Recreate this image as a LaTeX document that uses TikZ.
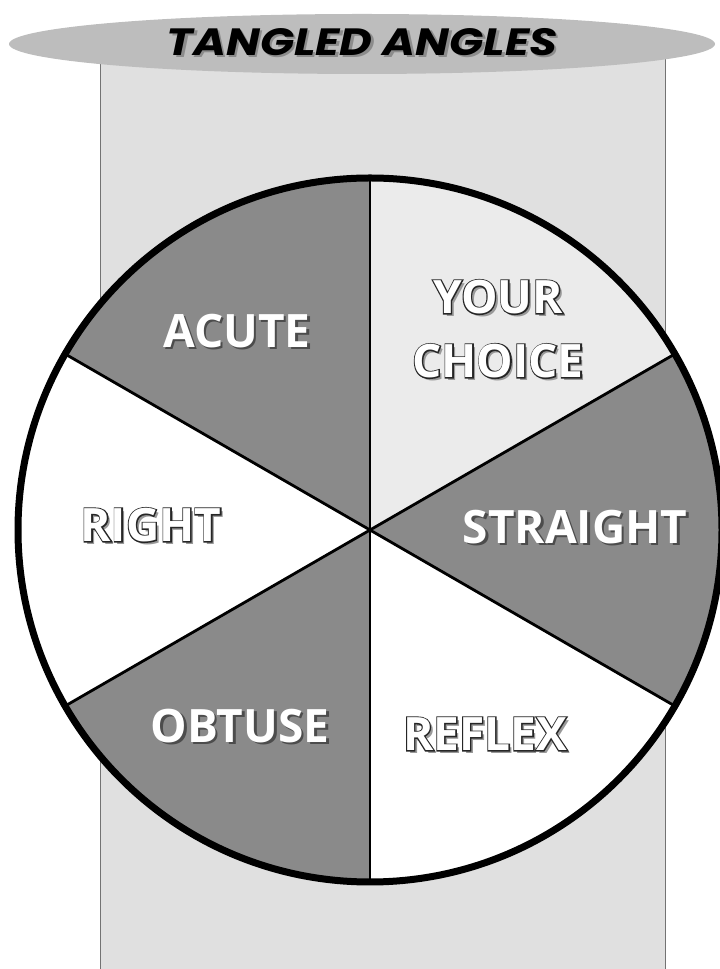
\documentclass[tikz,border=0pt]{standalone}
\usepackage{fontspec}
\setmainfont{Open Sans}
\newfontfamily\titlefont{Poppins}
\newfontfamily\thickfont{Open Sans}[BoldFeatures={FakeBold=5}]
\usetikzlibrary{calc}

\definecolor{bgpaper}{gray}{0.88}
\definecolor{bandgray}{gray}{0.74}
\definecolor{darksect}{gray}{0.54}
\definecolor{lightsect}{gray}{0.92}

\tikzset{
    lab/.style={font=\fontsize{46}{64}\selectfont\bfseries, text=white,
        inner sep=0pt, align=center},
    labshadow/.style={lab, text=black!70},
    laboutline/.style={lab, font=\thickfont\fontsize{46}{64}\selectfont\bfseries,
        text=black!85},
    spoke/.style={line width=2.8pt, black},
    titletext/.style={font=\titlefont\fontsize{38}{40}\selectfont\bfseries\itshape,
        xscale=1.18},
}

% white letters with a dark drop shadow
\newcommand{\embossed}[3]{%
    \node[labshadow] (#1-s) at ([shift={(2.5,-2.5)}]#2) {#3};
    \node[lab] (#1) at (#2) {#3};}
% white letters with a thin dark outline
\newcommand{\outlined}[3]{%
    \node[labshadow, text=black!40] (#1-s) at ([shift={(3,-3)}]#2) {#3};
    \node[laboutline] (#1-o) at (#2) {#3};
    \node[lab] (#1) at (#2) {#3};}

\begin{document}
\begin{tikzpicture}[x=1pt,y=1pt]
    \useasboundingbox (0,0) rectangle (720,969);

    % paper strip behind the wheel
    \fill[bgpaper] (100,0) rectangle (665,915);
    \draw[black!55, line width=1pt] (100,0) -- (100,915) (665,0) -- (665,915);

    % title band
    \fill[bandgray] (362,925) ellipse[x radius=353, y radius=30];
    \node[titletext, text=black!45] (title-s) at (364.5,924.5) {TANGLED ANGLES};
    \node[titletext, text=black] (title) at (362,927) {TANGLED ANGLES};

    % the wheel
    \coordinate (c) at (370,439);
    \foreach \s/\e/\col in {90/150/darksect, 30/90/lightsect, -30/30/darksect,
                            -90/-30/white, 210/270/darksect, 150/210/white}
        \fill[\col] (c) -- ([shift={(\s:352)}]c)
            arc[start angle=\s, end angle=\e, radius=352] -- cycle;
    \foreach \a in {90,30,150}
        \draw[spoke] ([shift={(\a:352)}]c) -- ([shift={(\a+180:352)}]c);
    \draw[line width=7pt] (c) circle[radius=352];

    % labels
    \coordinate (pacute) at (237,638);
    \coordinate (pchoice) at (498,640);
    \coordinate (pstraight) at (575,442);
    \coordinate (pright) at (151,444);
    \coordinate (pobtuse) at (240,243);
    \coordinate (preflex) at (485,235);

    \embossed{acute}{pacute}{ACUTE}
    \outlined{choice}{pchoice}{YOUR\\CHOICE}
    \embossed{straight}{pstraight}{STRAIGHT}
    \outlined{right}{pright}{RIGHT}
    \embossed{obtuse}{pobtuse}{OBTUSE}
    \outlined{reflex}{preflex}{REFLEX}

\end{tikzpicture}
\end{document}
